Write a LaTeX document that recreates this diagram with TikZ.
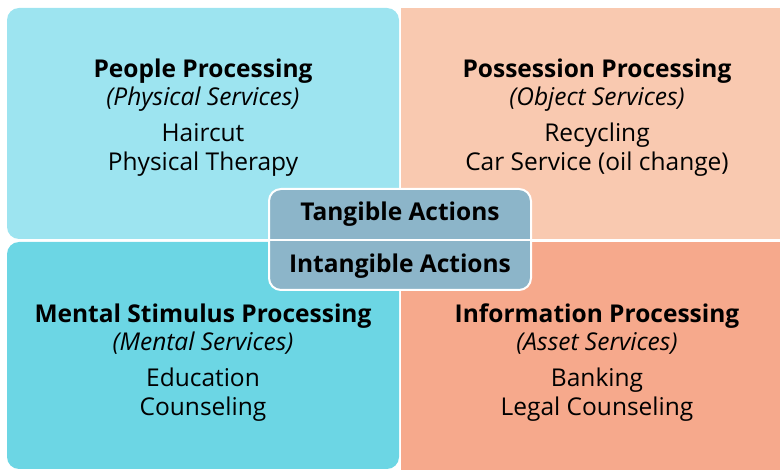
\documentclass[tikz,border=0pt]{standalone}
\usepackage{fontspec}
\setmainfont{Open Sans}
\definecolor{peoplecol}{HTML}{9DE4F0}
\definecolor{possesscol}{HTML}{F9C9B0}
\definecolor{mentalcol}{HTML}{6CD6E4}
\definecolor{infocol}{HTML}{F6A98C}
\definecolor{actioncol}{HTML}{8CB5C9}
\tikzset{
  quadtext/.style={align=center, font=\fontsize{24.5}{28.5}\selectfont, inner sep=0pt},
  actiontext/.style={font=\fontsize{24.5}{26}\selectfont\bfseries, inner sep=0pt}
}
\begin{document}
\begin{tikzpicture}[x=1pt,y=-1pt]

		% frame

		\useasboundingbox (0,0) rectangle (780,470);

		% quadrants

		\fill[peoplecol, rounded corners=12pt] (399,239) -- (7,239) -- (7,8) -- (399,8) [sharp corners] -- cycle;

		\fill[possesscol] (401,8) rectangle (780,239);

		\fill[mentalcol, rounded corners=12pt] (399,242) -- (399,469) -- (7,469) -- (7,242) [sharp corners] -- cycle;

		\fill[infocol] (401,242) rectangle (780,470);

		% define point

		\coordinate (P)  at (203,117.5);

		\coordinate (Q)  at (597,117.5);

		\coordinate (M)  at (203,362.5);

		\coordinate (I)  at (597,362.5);

		% texts

		\node[quadtext] (people) at (P) {\textbf{People Processing}\\ \textit{(Physical Services)}\\[7.5pt] Haircut\\ Physical Therapy};

		\node[quadtext] (possession) at (Q) {\textbf{Possession Processing}\\ \textit{(Object Services)}\\[7.5pt] Recycling\\ Car Service (oil change)};

		\node[quadtext] (mental) at (M) {\textbf{Mental Stimulus Processing}\\ \textit{(Mental Services)}\\[7.5pt] Education\\ Counseling};

		\node[quadtext] (information) at (I) {\textbf{Information Processing}\\ \textit{(Asset Services)}\\[7.5pt] Banking\\ Legal Counseling};

		% center box

		\draw[white, line width=2pt, fill=actioncol, rounded corners=12pt] (269,189) rectangle (531,290);

		\draw[white, line width=2pt] (269,240.5) -- (531,240.5);

		\node[actiontext] (tangible) at (400,214) {Tangible Actions};

		\node[actiontext] (intangible) at (400,266) {Intangible Actions};

	\end{tikzpicture}
\end{document}
